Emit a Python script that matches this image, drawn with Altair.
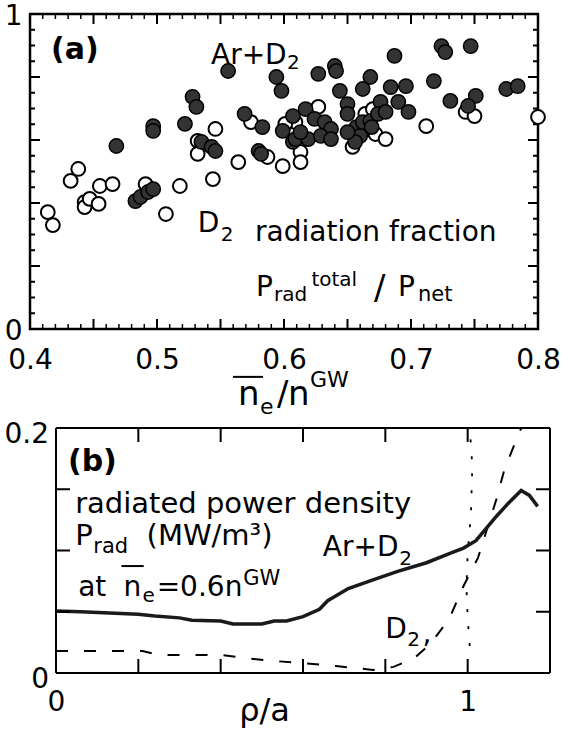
import altair as alt
import pandas as pd

FONT = "DejaVu Sans"

# ---------------- panel (a): radiation fraction vs density ----------------
ar_x = [0.556, 0.594, 0.598, 0.528, 0.531, 0.569, 0.583, 0.607, 0.497, 0.497, 0.522, 0.599,
        0.607, 0.468, 0.535, 0.543, 0.546, 0.580, 0.582, 0.483, 0.487, 0.493, 0.497,
        0.687, 0.724, 0.727, 0.747, 0.627, 0.640, 0.641, 0.668, 0.718, 0.775, 0.784,
        0.644, 0.662, 0.684, 0.696, 0.731, 0.751, 0.745, 0.617, 0.624, 0.632, 0.637,
        0.650, 0.650, 0.657, 0.660, 0.656, 0.662, 0.668, 0.676, 0.674, 0.680, 0.690,
        0.698, 0.609, 0.619, 0.629, 0.637, 0.613, 0.650, 0.669]
ar_y = [0.819, 0.800, 0.756, 0.737, 0.705, 0.683, 0.641, 0.676, 0.644, 0.629, 0.651, 0.629,
        0.594, 0.581, 0.594, 0.578, 0.565, 0.565, 0.556, 0.406, 0.419, 0.435, 0.444,
        0.867, 0.898, 0.879, 0.898, 0.810, 0.835, 0.819, 0.800, 0.787, 0.762, 0.771,
        0.756, 0.762, 0.768, 0.771, 0.724, 0.740, 0.708, 0.698, 0.667, 0.657, 0.635,
        0.714, 0.683, 0.641, 0.613, 0.594, 0.657, 0.660, 0.721, 0.683, 0.689, 0.721,
        0.689, 0.603, 0.603, 0.613, 0.603, 0.625, 0.625, 0.641]

d2_x = [0.438, 0.432, 0.455, 0.465, 0.491, 0.518, 0.544, 0.564, 0.587, 0.599, 0.546, 0.532,
        0.532, 0.574, 0.414, 0.418, 0.443, 0.443, 0.447, 0.454, 0.507, 0.627, 0.664, 0.670,
        0.672, 0.680, 0.654, 0.712, 0.743, 0.750, 0.800, 0.613, 0.613, 0.609, 0.601]
d2_y = [0.508, 0.470, 0.454, 0.460, 0.460, 0.454, 0.476, 0.530, 0.546, 0.517, 0.635, 0.597,
        0.556, 0.657, 0.371, 0.330, 0.403, 0.387, 0.413, 0.397, 0.365, 0.705, 0.683, 0.698,
        0.619, 0.603, 0.578, 0.644, 0.689, 0.676, 0.673, 0.562, 0.530, 0.657, 0.651]

a_xlabels = [0.4, 0.5, 0.6, 0.7, 0.8]
a_ylabels = [0, 1]
a_xmajor = [0.45, 0.5, 0.55, 0.6, 0.65, 0.7, 0.75]
a_xminor = [0.41, 0.42, 0.43, 0.44, 0.46, 0.47, 0.48, 0.49, 0.51, 0.52, 0.53, 0.54,
            0.56, 0.57, 0.58, 0.59, 0.61, 0.62, 0.63, 0.64, 0.66, 0.67, 0.68, 0.69,
            0.71, 0.72, 0.73, 0.74, 0.76, 0.77, 0.78, 0.79]
a_ymajor = [0.2, 0.4, 0.6, 0.8]
a_yminor = [0.05, 0.1, 0.15, 0.25, 0.3, 0.35, 0.45, 0.5, 0.55, 0.65, 0.7, 0.75, 0.85, 0.9, 0.95]

a_txt = ["Ar+D", "2", "D", "2", "radiation fraction", "P", "rad", "total", "/", "P", "net",
         "n", "e", "/", "n", "GW"]
a_txt_x = [0.5425, 0.6024, 0.532, 0.5502, 0.5772, 0.578, 0.5921, 0.6216, 0.6709, 0.6898, 0.7055,
           0.5638, 0.5811, 0.5945, 0.6031, 0.6205]
a_txt_y = [0.841, 0.825, 0.308, 0.279, 0.279, 0.105, 0.0889, 0.1365, 0.095, 0.105, 0.0889,
           -0.241, -0.270, -0.241, -0.241, -0.184]
a_txt_s = [28, 20, 28, 20, 28, 28, 20, 20, 34, 28, 21, 34, 22, 34, 34, 22]
a_bold = ["(a)"]
a_bold_x = [0.4165]
a_bold_y = [0.857]
a_over_x1 = [0.5598]
a_over_x2 = [0.5835]
a_over_y = [-0.152]

# ---------------- panel (b): radiated power density profiles ----------------
ar_rho = [0.0, 0.06, 0.13, 0.2, 0.24, 0.3, 0.33, 0.4, 0.43, 0.5, 0.53, 0.56, 0.6, 0.64,
          0.66, 0.71, 0.77, 0.83, 0.9, 0.96, 0.99, 1.02, 1.04, 1.07, 1.1, 1.13, 1.15, 1.17]
ar_prad = [0.0506, 0.050, 0.049, 0.048, 0.0465, 0.045, 0.043, 0.0425, 0.040, 0.040, 0.0425,
           0.0425, 0.046, 0.052, 0.059, 0.069, 0.076, 0.083, 0.090, 0.098, 0.102, 0.108,
           0.116, 0.128, 0.139, 0.149, 0.145, 0.136]
d2_rho = [0.0, 0.18, 0.21, 0.25, 0.40, 0.46, 0.53, 0.60, 0.68, 0.77, 0.82, 0.87, 0.91,
          0.955, 0.99, 1.025, 1.07, 1.09, 1.13]
d2_prad = [0.018, 0.018, 0.018, 0.0148, 0.0147, 0.0122, 0.0098, 0.008, 0.0057, 0.0025,
           0.005, 0.012, 0.024, 0.044, 0.071, 0.094, 0.142, 0.167, 0.200]
sep_rho = [1.005, 1.0, 0.997, 1.0, 1.008, 1.011, 1.009, 1.003]
sep_prad = [0.022, 0.045, 0.07, 0.098, 0.13, 0.165, 0.185, 0.2]

b_xlabels = [0, 1]
b_ylabels = [0, 0.2]
b_xticks = [0.2, 0.4, 0.6, 0.8, 1.0]
b_yticks = [0.05, 0.1, 0.15]
b_xlim = [0, 1.2]
b_ylim = [0, 0.2]

b_txt = ["radiated power density", "P", "rad", "(MW/m\u00b3)", "at", "n", "e", "=0.6n",
         "GW", "Ar+D", "2", "D", "2", ",", "\u03c1/a"]
b_txt_x = [0.0465, 0.0465, 0.0905, 0.22, 0.0538, 0.1638, 0.2103, 0.2445,
           0.4548, 0.648, 0.8337, 0.7995, 0.853, 0.89, 0.445]
b_txt_y = [0.1306, 0.1045, 0.098, 0.1045, 0.0629, 0.0629, 0.058, 0.0629,
           0.0718, 0.0955, 0.0882, 0.0286, 0.022, 0.0245, -0.039]
b_txt_s = [29, 29, 21, 29, 28, 28, 20, 28, 21, 28, 20, 28, 20, 28, 32]
b_bold = ["(b)"]
b_bold_x = [0.029]
b_bold_y = [0.165]
b_over_x1 = [0.159]
b_over_x2 = [0.213]
b_over_y = [0.0873]


# ---------------- helpers ----------------
def tick_layers(vals, orient, length, W, H, xs, ys, ax_x, ax_y, width, x0=0):
    df = pd.DataFrame({"t": vals})
    base = alt.Chart(df).mark_rule(color="black", strokeWidth=width)
    if orient in ("left", "right"):
        y = alt.Y("t:Q", scale=ys, axis=ax_y)
        if orient == "left":
            return base.encode(y=y, x=alt.value(x0), x2=alt.value(x0 + length))
        return base.encode(y=y, x=alt.value(W - length), x2=alt.value(W))
    x = alt.X("t:Q", scale=xs, axis=ax_x)
    if orient == "bottom":
        return base.encode(x=x, y=alt.value(H - length), y2=alt.value(H))
    return base.encode(x=x, y=alt.value(0), y2=alt.value(length))


def text_layer(txt, tx, ty, ts, xs, ys, ax_x, ax_y, bold=False):
    df = pd.DataFrame({"t": txt, "x": tx, "y": ty, "s": ts})
    return alt.Chart(df).mark_text(
        font=FONT, align="left", baseline="alphabetic", color="black",
        fontWeight="bold" if bold else "normal"
    ).encode(
        x=alt.X("x:Q", scale=xs, axis=ax_x),
        y=alt.Y("y:Q", scale=ys, axis=ax_y),
        text="t:N",
        size=alt.Size("s:Q", scale=None, legend=None),
    )


def overline(x1, x2, y, xs, ys, ax_x, ax_y):
    df = pd.DataFrame({"x1": x1, "x2": x2, "y": y})
    return alt.Chart(df).mark_rule(color="black", strokeWidth=2).encode(
        x=alt.X("x1:Q", scale=xs, axis=ax_x), x2="x2:Q",
        y=alt.Y("y:Q", scale=ys, axis=ax_y))


# ---------------- panel (a) ----------------
WA, HA = 508, 315
xs_a = alt.Scale(domain=[0.4, 0.8], nice=False, zero=False)
ys_a = alt.Scale(domain=[0, 1], nice=False, zero=False)

ax_xa = alt.Axis(values=a_xlabels, format=".1f", ticks=False, domain=False,
                 grid=False, labelFont=FONT, labelFontSize=28, labelColor="black",
                 labelPadding=17, labelFlush=False, title=None, minExtent=0)
ax_ya = alt.Axis(values=a_ylabels, format="~g", ticks=False, domain=False,
                 grid=False, labelFont=FONT, labelFontSize=28, labelColor="black",
                 labelPadding=8, labelOffset=2, title=None, minExtent=0)

df_open = pd.DataFrame({"x": d2_x, "y": d2_y})
df_fill = pd.DataFrame({"x": ar_x, "y": ar_y})

open_pts = alt.Chart(df_open).mark_point(
    shape="circle", filled=True, fill="white", stroke="black", strokeWidth=2,
    size=190, opacity=1
).encode(x=alt.X("x:Q", scale=xs_a, axis=ax_xa), y=alt.Y("y:Q", scale=ys_a, axis=ax_ya))

fill_pts = alt.Chart(df_fill).mark_point(
    shape="circle", filled=True, fill="#333333", stroke="black", strokeWidth=1.5,
    size=205, opacity=1
).encode(x=alt.X("x:Q", scale=xs_a, axis=ax_xa), y=alt.Y("y:Q", scale=ys_a, axis=ax_ya))

ta = dict(W=WA, H=HA, xs=xs_a, ys=ys_a, ax_x=ax_xa, ax_y=ax_ya)
panel_a = alt.layer(
    open_pts, fill_pts,
    tick_layers(a_ymajor, "left", 10, width=2, **ta),
    tick_layers(a_ymajor, "right", 10, width=2, **ta),
    tick_layers(a_yminor, "left", 5, width=2, **ta),
    tick_layers(a_yminor, "right", 5, width=2, **ta),
    tick_layers(a_xmajor, "bottom", 10, width=2, **ta),
    tick_layers(a_xmajor, "top", 10, width=2, **ta),
    tick_layers(a_xminor, "bottom", 5, width=1.5, **ta),
    tick_layers(a_xminor, "top", 5, width=1.5, **ta),
    text_layer(a_txt, a_txt_x, a_txt_y, a_txt_s, xs_a, ys_a, ax_xa, ax_ya),
    text_layer(a_bold, a_bold_x, a_bold_y, [30], xs_a, ys_a, ax_xa, ax_ya, bold=True),
    overline(a_over_x1, a_over_x2, a_over_y, xs_a, ys_a, ax_xa, ax_ya),
).properties(width=WA, height=HA,
             view=alt.ViewBackground(stroke="black", strokeWidth=2.5, fill="white"))

# ---------------- panel (b) ----------------
BOFF = 26           # panel (b) frame starts further right than panel (a)
WB, HB = 520, 245
xs_b = alt.Scale(domain=b_xlim, range=[BOFF, WB], nice=False, zero=False)
ys_b = alt.Scale(domain=b_ylim, nice=False, zero=False)

ax_xb = alt.Axis(values=b_xlabels, format="~g", ticks=False, domain=False,
                 grid=False, labelFont=FONT, labelFontSize=28, labelColor="black",
                 labelPadding=15, labelFlush=False, title=None, minExtent=0)
ax_yb = alt.Axis(values=b_ylabels, format="~g", ticks=False, domain=False,
                 grid=False, labelFont=FONT, labelFontSize=28, labelColor="black",
                 labelPadding=7.5, labelOffset=6, title=None, minExtent=0, offset=-BOFF)

df_ar = pd.DataFrame({"r": ar_rho, "p": ar_prad, "i": list(range(len(ar_rho)))})
df_d2 = pd.DataFrame({"r": d2_rho, "p": d2_prad, "i": list(range(len(d2_rho)))})
df_sep = pd.DataFrame({"r": sep_rho, "p": sep_prad, "i": list(range(len(sep_rho)))})

xb = alt.X("r:Q", scale=xs_b, axis=ax_xb)
yb = alt.Y("p:Q", scale=ys_b, axis=ax_yb)
line_ar = alt.Chart(df_ar).mark_line(color="#1a1a1a", strokeWidth=3.5, clip=True).encode(
    x=xb, y=yb, order="i:Q")
line_d2 = alt.Chart(df_d2).mark_line(color="black", strokeWidth=2, strokeDash=[12, 16],
                                     clip=True).encode(x=xb, y=yb, order="i:Q")
line_sep = alt.Chart(df_sep).mark_line(color="black", strokeWidth=1.8, strokeDash=[3, 14],
                                       clip=True).encode(x=xb, y=yb, order="i:Q")

# frame of panel (b), drawn at the domain limits
df_fv = pd.DataFrame({"fx": b_xlim})
df_fh = pd.DataFrame({"fy": b_ylim, "fx1": [b_xlim[0]] * 2, "fx2": [b_xlim[1]] * 2})
frame_v = alt.Chart(df_fv).mark_rule(color="black", strokeWidth=2).encode(
    x=alt.X("fx:Q", scale=xs_b, axis=ax_xb), y=alt.value(0), y2=alt.value(HB))
frame_h = alt.Chart(df_fh).mark_rule(color="black", strokeWidth=2).encode(
    y=alt.Y("fy:Q", scale=ys_b, axis=ax_yb), x=alt.X("fx1:Q", scale=xs_b, axis=ax_xb),
    x2="fx2:Q")

tb = dict(W=WB, H=HB, xs=xs_b, ys=ys_b, ax_x=ax_xb, ax_y=ax_yb)
panel_b = alt.layer(
    line_d2, line_sep, line_ar, frame_v, frame_h,
    tick_layers(b_yticks, "left", 14, width=2, x0=BOFF, **tb),
    tick_layers(b_yticks, "right", 14, width=2, **tb),
    tick_layers(b_xticks, "bottom", 14, width=2, **tb),
    tick_layers(b_xticks, "top", 14, width=2, **tb),
    text_layer(b_txt, b_txt_x, b_txt_y, b_txt_s, xs_b, ys_b, ax_xb, ax_yb),
    text_layer(b_bold, b_bold_x, b_bold_y, [30], xs_b, ys_b, ax_xb, ax_yb, bold=True),
    overline(b_over_x1, b_over_x2, b_over_y, xs_b, ys_b, ax_xb, ax_yb),
).properties(width=WB, height=HB,
             view=alt.ViewBackground(strokeOpacity=0, fill="white"))

chart = alt.concat(panel_a, panel_b, columns=1, spacing=0).properties(
    padding={"left": 2, "top": 0, "right": 0, "bottom": 8},
    background="white",
)

chart.save("out.html", embed_options={"renderer": "svg", "actions": False})
